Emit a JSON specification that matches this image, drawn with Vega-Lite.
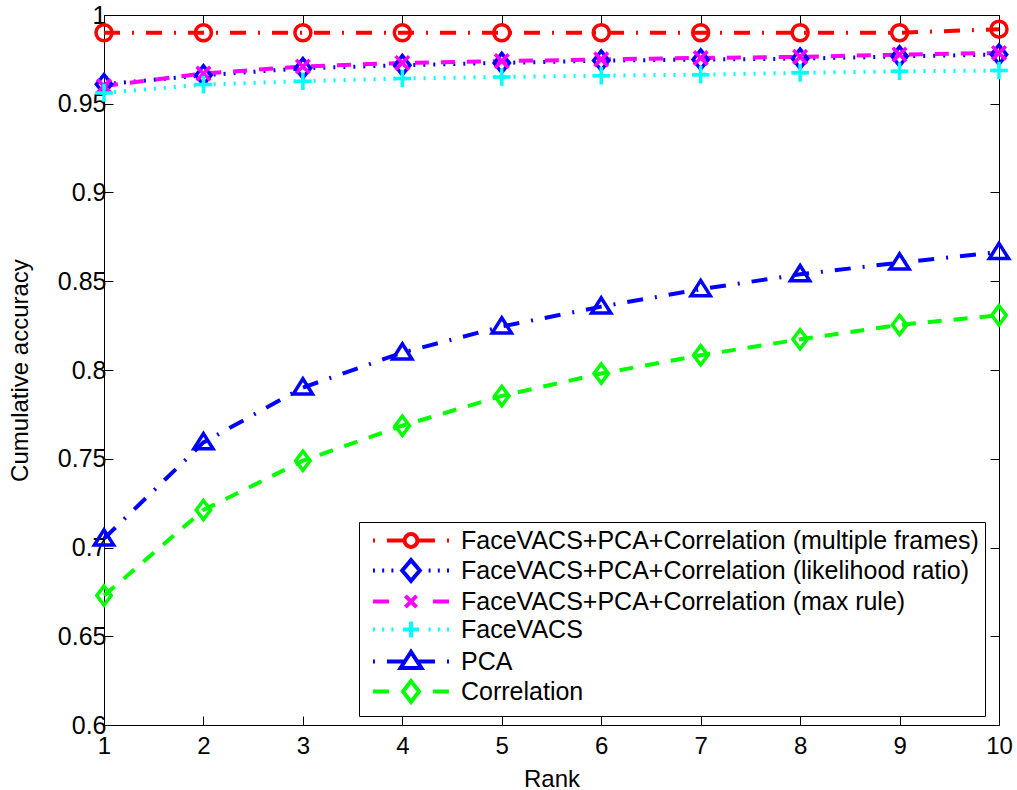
{
  "$schema": "https://vega.github.io/schema/vega-lite/v6.json",
  "width": 895,
  "height": 710,
  "autosize": {"type": "none"},
  "padding": {"left": 104, "top": 15, "right": 18, "bottom": 65},
  "background": "white",
  "config": {
    "view": {"stroke": null},
    "font": "Liberation Sans",
    "axis": {"domainColor": "black", "tickColor": "black", "labelColor": "black", "titleColor": "black", "domainWidth": 1, "tickWidth": 1, "grid": false, "labelFont": "Liberation Sans", "titleFont": "Liberation Sans", "titleFontWeight": "normal"}
  },
  "datasets": {
    "acc": [
      {"rank": 1, "acc": 0.990, "series": "FaceVACS+PCA+Correlation (multiple frames)"},
      {"rank": 2, "acc": 0.990, "series": "FaceVACS+PCA+Correlation (multiple frames)"},
      {"rank": 3, "acc": 0.990, "series": "FaceVACS+PCA+Correlation (multiple frames)"},
      {"rank": 4, "acc": 0.990, "series": "FaceVACS+PCA+Correlation (multiple frames)"},
      {"rank": 5, "acc": 0.990, "series": "FaceVACS+PCA+Correlation (multiple frames)"},
      {"rank": 6, "acc": 0.990, "series": "FaceVACS+PCA+Correlation (multiple frames)"},
      {"rank": 7, "acc": 0.990, "series": "FaceVACS+PCA+Correlation (multiple frames)"},
      {"rank": 8, "acc": 0.990, "series": "FaceVACS+PCA+Correlation (multiple frames)"},
      {"rank": 9, "acc": 0.990, "series": "FaceVACS+PCA+Correlation (multiple frames)"},
      {"rank": 10, "acc": 0.992, "series": "FaceVACS+PCA+Correlation (multiple frames)"},
      {"rank": 1, "acc": 0.961, "series": "FaceVACS+PCA+Correlation (likelihood ratio)"},
      {"rank": 2, "acc": 0.966, "series": "FaceVACS+PCA+Correlation (likelihood ratio)"},
      {"rank": 3, "acc": 0.970, "series": "FaceVACS+PCA+Correlation (likelihood ratio)"},
      {"rank": 4, "acc": 0.9717, "series": "FaceVACS+PCA+Correlation (likelihood ratio)"},
      {"rank": 5, "acc": 0.973, "series": "FaceVACS+PCA+Correlation (likelihood ratio)"},
      {"rank": 6, "acc": 0.9743, "series": "FaceVACS+PCA+Correlation (likelihood ratio)"},
      {"rank": 7, "acc": 0.9749, "series": "FaceVACS+PCA+Correlation (likelihood ratio)"},
      {"rank": 8, "acc": 0.9754, "series": "FaceVACS+PCA+Correlation (likelihood ratio)"},
      {"rank": 9, "acc": 0.9767, "series": "FaceVACS+PCA+Correlation (likelihood ratio)"},
      {"rank": 10, "acc": 0.9777, "series": "FaceVACS+PCA+Correlation (likelihood ratio)"},
      {"rank": 1, "acc": 0.960, "series": "FaceVACS+PCA+Correlation (max rule)"},
      {"rank": 2, "acc": 0.967, "series": "FaceVACS+PCA+Correlation (max rule)"},
      {"rank": 3, "acc": 0.971, "series": "FaceVACS+PCA+Correlation (max rule)"},
      {"rank": 4, "acc": 0.973, "series": "FaceVACS+PCA+Correlation (max rule)"},
      {"rank": 5, "acc": 0.974, "series": "FaceVACS+PCA+Correlation (max rule)"},
      {"rank": 6, "acc": 0.975, "series": "FaceVACS+PCA+Correlation (max rule)"},
      {"rank": 7, "acc": 0.9758, "series": "FaceVACS+PCA+Correlation (max rule)"},
      {"rank": 8, "acc": 0.9764, "series": "FaceVACS+PCA+Correlation (max rule)"},
      {"rank": 9, "acc": 0.9777, "series": "FaceVACS+PCA+Correlation (max rule)"},
      {"rank": 10, "acc": 0.9786, "series": "FaceVACS+PCA+Correlation (max rule)"},
      {"rank": 1, "acc": 0.9561, "series": "FaceVACS"},
      {"rank": 2, "acc": 0.9608, "series": "FaceVACS"},
      {"rank": 3, "acc": 0.9627, "series": "FaceVACS"},
      {"rank": 4, "acc": 0.9642, "series": "FaceVACS"},
      {"rank": 5, "acc": 0.9651, "series": "FaceVACS"},
      {"rank": 6, "acc": 0.9658, "series": "FaceVACS"},
      {"rank": 7, "acc": 0.9664, "series": "FaceVACS"},
      {"rank": 8, "acc": 0.9674, "series": "FaceVACS"},
      {"rank": 9, "acc": 0.9683, "series": "FaceVACS"},
      {"rank": 10, "acc": 0.9687, "series": "FaceVACS"},
      {"rank": 1, "acc": 0.705, "series": "PCA"},
      {"rank": 2, "acc": 0.7592, "series": "PCA"},
      {"rank": 3, "acc": 0.7901, "series": "PCA"},
      {"rank": 4, "acc": 0.8098, "series": "PCA"},
      {"rank": 5, "acc": 0.8245, "series": "PCA"},
      {"rank": 6, "acc": 0.8357, "series": "PCA"},
      {"rank": 7, "acc": 0.8455, "series": "PCA"},
      {"rank": 8, "acc": 0.8539, "series": "PCA"},
      {"rank": 9, "acc": 0.8605, "series": "PCA"},
      {"rank": 10, "acc": 0.8664, "series": "PCA"},
      {"rank": 1, "acc": 0.6729, "series": "Correlation"},
      {"rank": 2, "acc": 0.7211, "series": "Correlation"},
      {"rank": 3, "acc": 0.7489, "series": "Correlation"},
      {"rank": 4, "acc": 0.7686, "series": "Correlation"},
      {"rank": 5, "acc": 0.7854, "series": "Correlation"},
      {"rank": 6, "acc": 0.798, "series": "Correlation"},
      {"rank": 7, "acc": 0.8083, "series": "Correlation"},
      {"rank": 8, "acc": 0.8173, "series": "Correlation"},
      {"rank": 9, "acc": 0.8254, "series": "Correlation"},
      {"rank": 10, "acc": 0.8308, "series": "Correlation"}
    ]
  },
  "data": {"name": "acc"},
  "layer": [
    {
      "mark": {"type": "line", "strokeWidth": 4, "strokeCap": "butt"},
      "encoding": {
        "x": {"field": "rank", "type": "quantitative", "scale": {"domain": [1, 10]},
          "axis": {"orient": "bottom", "values": [1, 2, 3, 4, 5, 6, 7, 8, 9, 10], "format": "d", "labelFontSize": 24, "labelFlush": false, "tickSize": -9, "labelPadding": 18, "title": "Rank", "titleFontSize": 24, "titlePadding": 9}},
        "y": {"field": "acc", "type": "quantitative", "scale": {"domain": [0.6, 1], "zero": false, "nice": false},
          "axis": {"orient": "left", "values": [0.6, 0.65, 0.7, 0.75, 0.8, 0.85, 0.9, 0.95, 1], "format": "~g", "labelFontSize": 25, "tickSize": -9, "labelPadding": 7, "title": "Cumulative accuracy", "titleFontSize": 24, "titlePadding": 25}},
        "color": {"field": "series", "type": "nominal", "legend": null,
          "scale": {"domain": ["FaceVACS+PCA+Correlation (multiple frames)", "FaceVACS+PCA+Correlation (likelihood ratio)", "FaceVACS+PCA+Correlation (max rule)", "FaceVACS", "PCA", "Correlation"],
            "range": ["#ff0000", "#0000ff", "#ff00ff", "#00ffff", "#0000ff", "#00ff00"]}},
        "strokeDash": {"field": "series", "type": "nominal", "legend": null,
          "scale": {"domain": ["FaceVACS+PCA+Correlation (multiple frames)", "FaceVACS+PCA+Correlation (likelihood ratio)", "FaceVACS+PCA+Correlation (max rule)", "FaceVACS", "PCA", "Correlation"],
            "range": [[16, 12, 2, 12], [2, 8], [14, 12], [2, 8], [16, 12, 2, 12], [14, 12]]}}
      }
    },
    {
      "mark": {"type": "point", "filled": false, "strokeWidth": 3.5, "size": 256, "opacity": 1},
      "encoding": {
        "x": {"field": "rank", "type": "quantitative", "axis": {"orient": "top", "values": [1, 2, 3, 4, 5, 6, 7, 8, 9, 10], "labels": false, "title": null, "tickSize": -9}},
        "y": {"field": "acc", "type": "quantitative", "axis": {"orient": "right", "values": [0.6, 0.65, 0.7, 0.75, 0.8, 0.85, 0.9, 0.95, 1], "labels": false, "title": null, "tickSize": -9}},
        "color": {"field": "series", "type": "nominal", "legend": null},
        "shape": {"field": "series", "type": "nominal", "legend": null,
          "scale": {"domain": ["FaceVACS+PCA+Correlation (multiple frames)", "FaceVACS+PCA+Correlation (likelihood ratio)", "FaceVACS+PCA+Correlation (max rule)", "FaceVACS", "PCA", "Correlation"],
            "range": [
              "M1,0A1,1,0,1,1,-1,0A1,1,0,1,1,1,0Z",
              "M0,-1.2L0.95,0L0,1.2L-0.95,0Z",
              "M-0.85,-0.85L0.85,0.85M-0.85,0.85L0.85,-0.85",
              "M-1.1,0H1.1M0,-1.1V1.1",
              "M0,-1.1L1.2,0.8L-1.2,0.8Z",
              "M0,-1.2L0.9,0L0,1.2L-0.9,0Z"
            ]}}
      }
    },
    {
      "mark": {"type": "point", "filled": false, "strokeWidth": 4, "size": 256, "opacity": 0},
      "encoding": {
        "x": {"field": "rank", "type": "quantitative", "axis": null},
        "y": {"field": "acc", "type": "quantitative", "axis": null},
        "color": {"field": "series", "type": "nominal",
          "legend": {
            "orient": "none", "legendX": 255, "legendY": 507, "title": null,
            "padding": 6, "strokeColor": "black", "fillColor": "white",
            "symbolSize": 256, "symbolStrokeWidth": 4, "symbolOffset": 33.5, "labelOffset": 37.5,
            "labelFont": "Liberation Sans", "labelFontSize": 25, "labelColor": "black", "labelLimit": 800, "rowPadding": -3,
            "encode": {"symbols": {
              "opacity": {"value": 1},
              "fill": {"value": "transparent"},
              "strokeWidth": {"value": 4},
              "strokeCap": {"value": "butt"}
            }}
          }},
        "shape": {"field": "series", "type": "nominal",
          "scale": {"domain": ["FaceVACS+PCA+Correlation (multiple frames)", "FaceVACS+PCA+Correlation (likelihood ratio)", "FaceVACS+PCA+Correlation (max rule)", "FaceVACS", "PCA", "Correlation"],
            "range": [
              "M-4.75,0H-4.5M-3,0H-0.8M0.8,0H3M4.5,0H4.75M0.8,0A0.8,0.8,0,1,1,-0.8,0A0.8,0.8,0,1,1,0.8,0Z",
              "M-4.75,0H-4.5M-3.6,0H-3.35M-2.45,0H-2.2M2.2,0H2.45M3.35,0H3.6M4.5,0H4.75M0,-1.3L1.1,0L0,1.3L-1.1,0Z",
              "M-4.75,0H-2.75M2.75,0H4.75M-0.7,-0.7L0.7,0.7M-0.7,0.7L0.7,-0.7",
              "M-4.75,0H-4.5M-3.6,0H-3.35M-2.45,0H-2.2M2.2,0H2.45M3.35,0H3.6M4.5,0H4.75M-1,0H1M0,-1V1",
              "M-4.75,0H-4.5M-3,0H-0.8M0.8,0H3M4.5,0H4.75M0,-1.2L1.3,0.8L-1.3,0.8Z",
              "M-4.75,0H-2.75M2.75,0H4.75M0,-1.3L1,0L0,1.3L-1,0Z"
            ]},
          "legend": {
            "orient": "none", "legendX": 255, "legendY": 507, "title": null,
            "padding": 6, "strokeColor": "black", "fillColor": "white",
            "symbolSize": 256, "symbolStrokeWidth": 4, "symbolOffset": 33.5, "labelOffset": 37.5,
            "labelFont": "Liberation Sans", "labelFontSize": 25, "labelColor": "black", "labelLimit": 800, "rowPadding": -3,
            "encode": {"symbols": {
              "opacity": {"value": 1},
              "fill": {"value": "transparent"},
              "strokeWidth": {"value": 4},
              "strokeCap": {"value": "butt"}
            }}
          }}
      }
    }
  ],
  "resolve": {"scale": {"shape": "independent"}, "axis": {"x": "independent", "y": "independent"}, "legend": {"color": "independent", "shape": "independent"}}
}
